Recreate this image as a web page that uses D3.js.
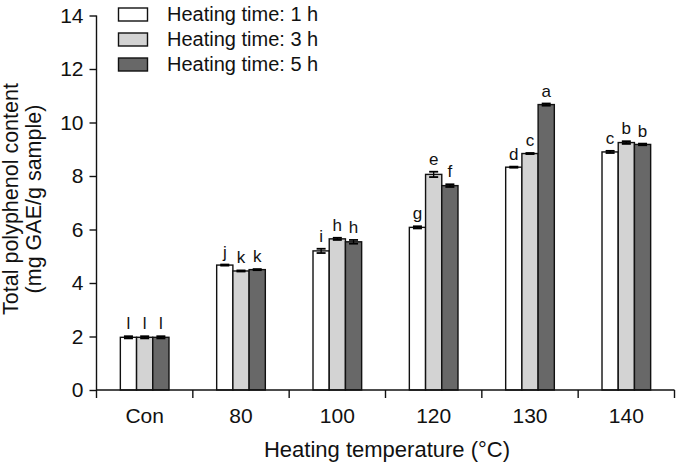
<!DOCTYPE html>
<html>
<head>
<meta charset="utf-8">
<script src="https://cdn.jsdelivr.net/npm/d3@7"></script>
<style>
  html, body { margin: 0; padding: 0; background: #fff; }
  svg { display: block; font-family: "Liberation Sans", Arial, sans-serif; }
</style>
</head>
<body>
<svg id="chart" width="677" height="463"></svg>
<script>
const categories = ["Con", "80", "100", "120", "130", "140"];
const seriesNames = ["Heating time: 1 h", "Heating time: 3 h", "Heating time: 5 h"];
const values1h = [1.97, 4.67, 5.20, 6.08, 8.33, 8.90];
const values3h = [1.97, 4.45, 5.65, 8.06, 8.84, 9.25];
const values5h = [1.97, 4.50, 5.54, 7.64, 10.67, 9.18];
const errors1h = [0.04, 0.02, 0.08, 0.04, 0.02, 0.04];
const errors3h = [0.04, 0.02, 0.04, 0.10, 0.02, 0.05];
const errors5h = [0.04, 0.02, 0.07, 0.05, 0.04, 0.03];
const letters1h = ["l", "j", "i", "g", "d", "c"];
const letters3h = ["l", "k", "h", "e", "c", "b"];
const letters5h = ["l", "k", "h", "f", "a", "b"];
const yTicks = [0, 2, 4, 6, 8, 10, 12, 14];
const colors = ["#ffffff", "#d3d3d3", "#686868"];

const values = [values1h, values3h, values5h];
const errors = [errors1h, errors3h, errors5h];
const letters = [letters1h, letters3h, letters5h];

const svg = d3.select("#chart");
const x0 = d3.scaleBand().domain(categories).range([96.5, 674.5]).paddingInner(0).paddingOuter(0);
const y = d3.scaleLinear().domain([0, 14]).range([390, 15.5]);
const groupW = x0.bandwidth() * 0.505;
const x1 = d3.scaleBand().domain(d3.range(3)).range([0, groupW]).padding(0);
const off = (x0.bandwidth() - groupW) / 2;

const rows = [];
categories.forEach((c, i) => {
  for (let s = 0; s < 3; s++) {
    rows.push({c, s, v: values[s][i], e: errors[s][i], l: letters[s][i]});
  }
});

// bars
svg.append("g").selectAll("rect").data(rows).join("rect")
  .attr("x", d => x0(d.c) + off + x1(d.s))
  .attr("y", d => y(d.v))
  .attr("width", x1.bandwidth())
  .attr("height", d => y(0) - y(d.v))
  .attr("fill", d => colors[d.s])
  .attr("stroke", "#111")
  .attr("stroke-width", 1.4);

// error bars
const eg = svg.append("g").attr("stroke", "#000");
rows.forEach(d => {
  const cx = x0(d.c) + off + x1(d.s) + x1.bandwidth() / 2;
  const y1 = y(d.v + d.e), y2 = y(d.v - d.e);
  eg.append("line").attr("x1", cx).attr("x2", cx).attr("y1", y1).attr("y2", y2).attr("stroke-width", 1.3);
  eg.append("line").attr("x1", cx - 4.5).attr("x2", cx + 4.5).attr("y1", y1).attr("y2", y1).attr("stroke-width", 1.8);
  eg.append("line").attr("x1", cx - 4.5).attr("x2", cx + 4.5).attr("y1", y2).attr("y2", y2).attr("stroke-width", 1.8);
});

// letters
svg.append("g").selectAll("text").data(rows).join("text")
  .attr("x", d => x0(d.c) + off + x1(d.s) + x1.bandwidth() / 2)
  .attr("y", d => y(d.v + d.e) - 7)
  .attr("text-anchor", "middle")
  .attr("font-size", 17)
  .attr("fill", "#111")
  .text(d => d.l);

// y axis
const yAxis = svg.append("g").attr("transform", "translate(96.5,0)")
  .call(d3.axisLeft(y).tickValues(yTicks).tickSize(7).tickPadding(6).tickFormat(d3.format("d")));
yAxis.select(".domain").attr("d", `M0,${y(14)}V${y(0)}`);
yAxis.selectAll("line, path").attr("stroke", "#111").attr("stroke-width", 1.4);
yAxis.selectAll("text").attr("font-size", 21).attr("fill", "#111").attr("font-family", "Liberation Sans, Arial, sans-serif");

// x axis
const xTickPos = categories.map(c => x0(c)).concat([x0.range()[1]]);
const xAxisG = svg.append("g").attr("transform", `translate(0,${y(0)})`);
xAxisG.append("line").attr("x1", x0.range()[0]).attr("x2", x0.range()[1]).attr("stroke", "#111").attr("stroke-width", 1.4);
xAxisG.selectAll("line.tick").data(xTickPos).join("line").attr("class", "tick")
  .attr("x1", d => d).attr("x2", d => d).attr("y1", 0).attr("y2", 8)
  .attr("stroke", "#111").attr("stroke-width", 1.4);
xAxisG.selectAll("text").data(categories).join("text")
  .attr("x", d => x0(d) + x0.bandwidth() / 2)
  .attr("y", 32.5)
  .attr("text-anchor", "middle")
  .attr("font-size", 21)
  .attr("fill", "#111")
  .text(d => d);

// axis titles
svg.append("text").attr("x", 387).attr("y", 457)
  .attr("text-anchor", "middle").attr("font-size", 22).attr("fill", "#111")
  .text("Heating temperature (°C)");
const yt = svg.append("text").attr("transform", "translate(0,199) rotate(-90)")
  .attr("text-anchor", "middle").attr("font-size", 21.5).attr("fill", "#111");
yt.append("tspan").attr("x", 0).attr("y", 18).text("Total polyphenol content");
yt.append("tspan").attr("x", 0).attr("y", 41).text("(mg GAE/g sample)");

// legend
const lg = svg.append("g");
seriesNames.forEach((n, i) => {
  const by = 20.5 + i * 25;
  lg.append("rect").attr("x", 118.5).attr("y", by - 12.5).attr("width", 29).attr("height", 13)
    .attr("fill", colors[i]).attr("stroke", "#111").attr("stroke-width", 1.4);
  lg.append("text").attr("x", 167).attr("y", by).attr("font-size", 20).attr("fill", "#111").text(n);
});
</script>
</body>
</html>
